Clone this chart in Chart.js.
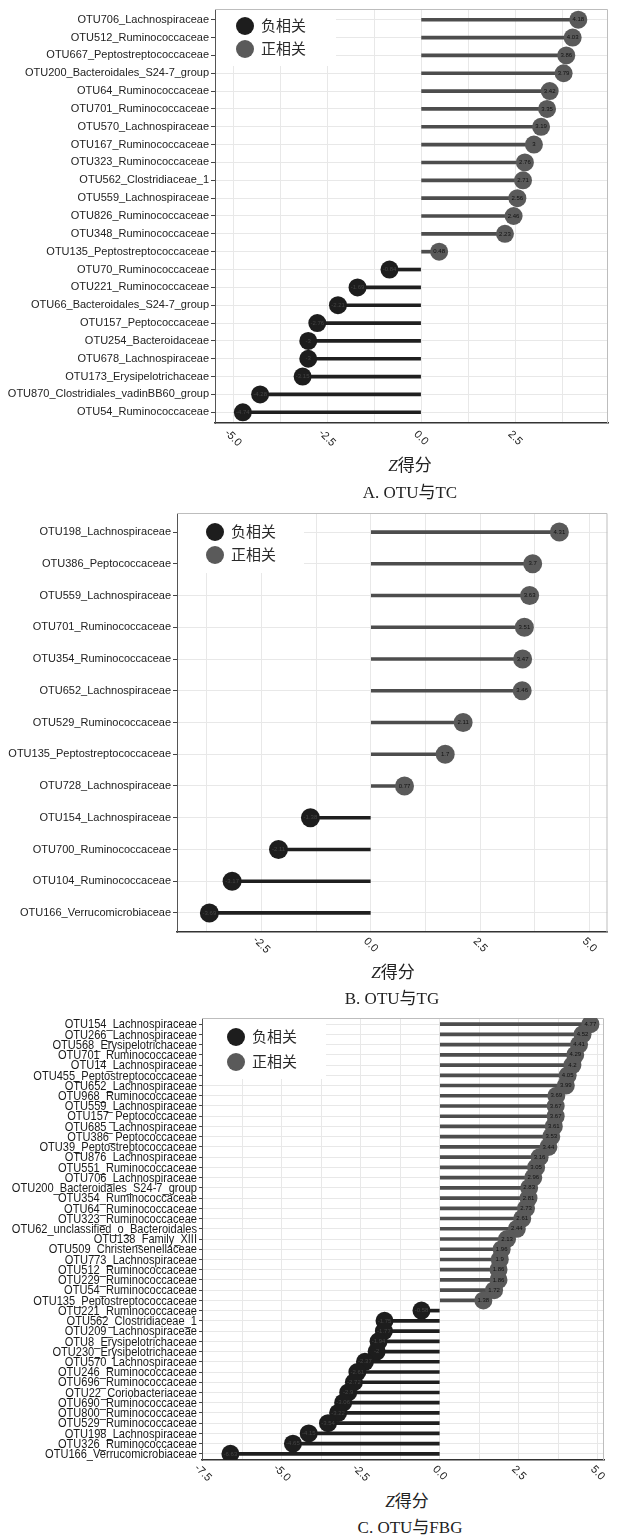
<!DOCTYPE html>
<html><head><meta charset="utf-8">
<script src="https://cdn.jsdelivr.net/npm/chart.js@4.4.1/dist/chart.umd.min.js"></script>
<style>
html,body{margin:0;padding:0;background:#fff;}
body{width:617px;height:1535px;position:relative;overflow:hidden;}
canvas{position:absolute;left:0;}
.t{position:absolute;font-family:'Liberation Serif','Noto Sans CJK SC',serif;color:#222;transform:translate(-50%,-50%);white-space:nowrap;font-size:17px;}
.t i{font-style:italic;}
</style></head><body>
<canvas id="cA" width="617" height="455" style="top:0px"></canvas>
<canvas id="cB" width="617" height="465" style="top:495px"></canvas>
<canvas id="cC" width="617" height="480" style="top:1005px"></canvas>
<div class="t" style="left:410px;top:463px"><i>Z</i>得分</div>
<div class="t" style="left:410px;top:490px">A. OTU与TC</div>
<div class="t" style="left:393px;top:970px"><i>Z</i>得分</div>
<div class="t" style="left:392px;top:996px">B. OTU与TG</div>
<div class="t" style="left:407px;top:1499px"><i>Z</i>得分</div>
<div class="t" style="left:410px;top:1525px">C. OTU与FBG</div>
<script>
// ---- data ----
const legendLabels = ['负相关', '正相关'];

const labelsA = ['OTU706_Lachnospiraceae','OTU512_Ruminococcaceae','OTU667_Peptostreptococcaceae','OTU200_Bacteroidales_S24-7_group','OTU64_Ruminococcaceae','OTU701_Ruminococcaceae','OTU570_Lachnospiraceae','OTU167_Ruminococcaceae','OTU323_Ruminococcaceae','OTU562_Clostridiaceae_1','OTU559_Lachnospiraceae','OTU826_Ruminococcaceae','OTU348_Ruminococcaceae','OTU135_Peptostreptococcaceae','OTU70_Ruminococcaceae','OTU221_Ruminococcaceae','OTU66_Bacteroidales_S24-7_group','OTU157_Peptococcaceae','OTU254_Bacteroidaceae','OTU678_Lachnospiraceae','OTU173_Erysipelotrichaceae','OTU870_Clostridiales_vadinBB60_group','OTU54_Ruminococcaceae'];
const valuesA = [4.18,4.03,3.86,3.79,3.42,3.35,3.19,3,2.76,2.71,2.56,2.46,2.23,0.48,-0.84,-1.69,-2.21,-2.76,-3,-3,-3.15,-4.28,-4.74];
const xTicksA = [-5, -2.5, 0, 2.5];

const labelsB = ['OTU198_Lachnospiraceae','OTU386_Peptococcaceae','OTU559_Lachnospiraceae','OTU701_Ruminococcaceae','OTU354_Ruminococcaceae','OTU652_Lachnospiraceae','OTU529_Ruminococcaceae','OTU135_Peptostreptococcaceae','OTU728_Lachnospiraceae','OTU154_Lachnospiraceae','OTU700_Ruminococcaceae','OTU104_Ruminococcaceae','OTU166_Verrucomicrobiaceae'];
const valuesB = [4.31,3.7,3.63,3.51,3.47,3.46,2.11,1.7,0.77,-1.38,-2.11,-3.17,-3.69];
const xTicksB = [-2.5, 0, 2.5, 5];

const labelsC = ['OTU154_Lachnospiraceae','OTU266_Lachnospiraceae','OTU568_Erysipelotrichaceae','OTU701_Ruminococcaceae','OTU14_Lachnospiraceae','OTU455_Peptostreptococcaceae','OTU652_Lachnospiraceae','OTU968_Ruminococcaceae','OTU559_Lachnospiraceae','OTU157_Peptococcaceae','OTU685_Lachnospiraceae','OTU386_Peptococcaceae','OTU39_Peptostreptococcaceae','OTU876_Lachnospiraceae','OTU551_Ruminococcaceae','OTU706_Lachnospiraceae','OTU200_Bacteroidales_S24-7_group','OTU354_Ruminococcaceae','OTU64_Ruminococcaceae','OTU323_Ruminococcaceae','OTU62_unclassified_o_Bacteroidales','OTU138_Family_XIII','OTU509_Christensenellaceae','OTU773_Lachnospiraceae','OTU512_Ruminococcaceae','OTU229_Ruminococcaceae','OTU54_Ruminococcaceae','OTU135_Peptostreptococcaceae','OTU221_Ruminococcaceae','OTU562_Clostridiaceae_1','OTU209_Lachnospiraceae','OTU8_Erysipelotrichaceae','OTU230_Erysipelotrichaceae','OTU570_Lachnospiraceae','OTU246_Ruminococcaceae','OTU696_Ruminococcaceae','OTU22_Coriobacteriaceae','OTU690_Ruminococcaceae','OTU800_Ruminococcaceae','OTU529_Ruminococcaceae','OTU198_Lachnospiraceae','OTU326_Ruminococcaceae','OTU166_Verrucomicrobiaceae'];
const valuesC = [4.77,4.52,4.41,4.29,4.2,4.05,3.99,3.69,3.67,3.67,3.61,3.53,3.44,3.16,3.05,2.96,2.83,2.81,2.73,2.61,2.44,2.13,1.96,1.9,1.86,1.86,1.72,1.38,-0.58,-1.75,-1.77,-1.94,-2,-2.37,-2.61,-2.72,-2.9,-3.06,-3.22,-3.54,-4.15,-4.65,-6.63];
const xTicksC = [-7.5, -5, -2.5, 0, 2.5, 5];

// ---- styles ----
const NEG_PT = '#1d1d1d', POS_PT = '#5a5a5a';
const NEG_STEM = '#1f1f1f', POS_STEM = '#4d4d4d';
const GRID = '#e8e8e8';

function buildPanel(id, labels, values, xMajor, xMin, xMax, L) {
  const n = labels.length;
  const half = (xMajor[1] - xMajor[0]) / 2;
  const gridVals = [];
  xMajor.forEach(m => { gridVals.push(m); });
  xMajor.forEach(m => { [m - half, m + half].forEach(v => { if (v > xMin && v < xMax && gridVals.indexOf(v) < 0) gridVals.push(v); }); });
  gridVals.sort((a, b) => a - b);
  const pts = values.map((v, i) => ({x: v, y: i}));
  const custom = !!L.narrow;

  const panelPlugin = {
    id: 'panel_' + id,
    beforeDatasetsDraw(chart) {
      const ctx = chart.ctx, a = chart.chartArea;
      ctx.save();
      ctx.strokeStyle = '#bdbdbd'; ctx.lineWidth = 1;
      ctx.beginPath();
      ctx.moveTo(a.left, a.top + 0.5); ctx.lineTo(a.right - 0.5, a.top + 0.5); ctx.lineTo(a.right - 0.5, a.bottom);
      ctx.stroke();
      ctx.fillStyle = '#ffffff';
      ctx.fillRect(a.left + 1, a.top + 1, L.lw, L.lh);
      const cols = [NEG_PT, POS_PT];
      legendLabels.forEach((t, k) => {
        const cy = a.top + L.ly[k];
        ctx.fillStyle = cols[k];
        ctx.beginPath(); ctx.arc(a.left + L.lx, cy, 9, 0, Math.PI * 2); ctx.fill();
        ctx.fillStyle = '#2a2a2a';
        ctx.font = "15px 'Liberation Serif','Noto Sans CJK SC',serif";
        ctx.textAlign = 'left'; ctx.textBaseline = 'middle';
        ctx.fillText(t, a.left + L.lx + 16, cy + 1);
      });
      ctx.restore();
    },
    afterDatasetsDraw(chart) {
      const ctx = chart.ctx;
      const meta = chart.getDatasetMeta(1);
      ctx.save();
      ctx.font = "6px 'Liberation Sans', Arial, sans-serif";
      ctx.textAlign = 'center'; ctx.textBaseline = 'middle';
      meta.data.forEach((el, i) => {
        ctx.fillStyle = values[i] >= 0 ? '#111' : '#444';
        ctx.fillText(String(values[i]), el.x, el.y);
      });
      ctx.restore();
    },
    afterDraw(chart) {
      const ctx = chart.ctx, a = chart.chartArea, sx = chart.scales.x, sy = chart.scales.y;
      ctx.save();
      ctx.font = "11px 'Liberation Sans', Arial, sans-serif";
      ctx.fillStyle = '#222';
      ctx.textAlign = 'center'; ctx.textBaseline = 'middle';
      xMajor.forEach(v => {
        const px = sx.getPixelForValue(v);
        ctx.save();
        ctx.translate(px, a.bottom + L.tly);
        ctx.rotate(Math.PI / 4);
        ctx.fillText(v.toFixed(1), 0, 0);
        ctx.restore();
      });
      if (custom) {
        ctx.font = L.narrow.size + "px 'Liberation Sans', Arial, sans-serif";
        ctx.fillStyle = '#1a1a1a';
        ctx.textAlign = 'right'; ctx.textBaseline = 'middle';
        labels.forEach((t, i) => {
          const py = sy.getPixelForValue(i);
          ctx.save();
          ctx.translate(a.left - 5, py + 0.5);
          ctx.scale(L.narrow.sx, 1);
          ctx.fillText(t, 0, 0);
          ctx.restore();
        });
      }
      ctx.restore();
    }
  };

  return new Chart(document.getElementById(id), {
    type: 'bar',
    data: {
      datasets: [
        { type: 'bar', data: pts, backgroundColor: values.map(v => v >= 0 ? POS_STEM : NEG_STEM),
          barThickness: L.stem, borderWidth: 0, order: 2 },
        { type: 'line', indexAxis: 'y', data: pts, showLine: false, pointRadius: L.r, pointHoverRadius: L.r,
          pointBackgroundColor: values.map(v => v >= 0 ? POS_PT : NEG_PT), pointBorderWidth: 0, order: 1 }
      ]
    },
    options: {
      indexAxis: 'y', responsive: false, animation: false, devicePixelRatio: 1,
      layout: { padding: { top: L.top, right: L.right, left: 0, bottom: 0 } },
      plugins: { legend: { display: false }, tooltip: { enabled: false } },
      scales: {
        x: {
          type: 'linear', position: 'bottom', min: xMin, max: xMax, offset: false,
          afterBuildTicks: s => { s.ticks = gridVals.map(v => ({ value: v })); },
          ticks: { display: false },
          grid: { color: GRID, lineWidth: 1, drawTicks: false, offset: false },
          border: { display: true, color: '#333', width: 1.5 },
          afterFit: s => { s.height = L.xh; }
        },
        y: {
          type: 'linear', position: 'left', reverse: true, min: -0.6, max: n - 0.4, offset: false,
          afterBuildTicks: s => { s.ticks = labels.map((_, i) => ({ value: i })); },
          ticks: { display: !custom, autoSkip: false, padding: 2, color: '#222', font: L.font, callback: v => labels[v] },
          grid: { color: GRID, tickColor: '#444', tickLength: custom ? 3 : 4, lineWidth: 1, offset: false },
          border: { display: true, color: '#555', width: 1 },
          afterFit: s => { s.width = L.yw; }
        }
      }
    },
    plugins: [panelPlugin]
  });
}

buildPanel('cA', labelsA, valuesA, xTicksA, -5.48, 4.97, {
  top: 7, right: 9, yw: 215, xh: 32, tly: 15, r: 9, stem: 3,
  font: { family: "'Liberation Sans', Arial, sans-serif", size: 11 },
  lw: 120, lh: 56, lx: 30, ly: [17, 40]
});
buildPanel('cB', labelsB, valuesB, xTicksB, -4.43, 5.41, {
  top: 18, right: 9, yw: 177, xh: 28, tly: 13, r: 9.5, stem: 3,
  font: { family: "'Liberation Sans', Arial, sans-serif", size: 11 },
  lw: 126, lh: 59, lx: 38, ly: [19, 42]
});
buildPanel('cC', labelsC, valuesC, xTicksC, -7.53, 5.2, {
  top: 13, right: 13, yw: 202, xh: 25, tly: 13, r: 9, stem: 3,
  font: { family: "'Liberation Sans', Arial, sans-serif", size: 11 },
  narrow: { size: 13.5, sx: 0.82 },
  lw: 123, lh: 60, lx: 34, ly: [19, 44]
});
</script>
</body></html>
